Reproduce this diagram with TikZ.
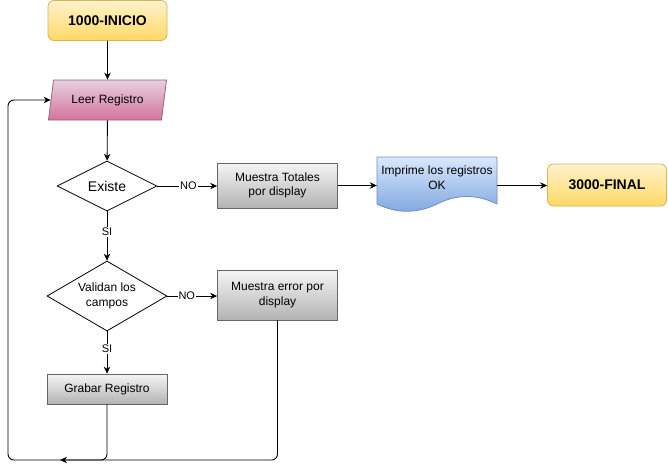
\documentclass[tikz,border=0pt]{standalone}
\usepackage{fontspec}
\setmainfont{Liberation Sans}
\usetikzlibrary{shapes.geometric,arrows.meta}
\definecolor{yelT}{HTML}{FFF2CC}
\definecolor{yelB}{HTML}{FFD966}
\definecolor{yelD}{HTML}{D6B656}
\definecolor{pinkT}{HTML}{E6D0DE}
\definecolor{pinkB}{HTML}{D5739D}
\definecolor{pinkD}{HTML}{996185}
\definecolor{grayT}{HTML}{F5F5F5}
\definecolor{grayB}{HTML}{B3B3B3}
\definecolor{grayD}{HTML}{666666}
\definecolor{blueT}{HTML}{DAE8FC}
\definecolor{blueB}{HTML}{7EA6E0}
\definecolor{blueD}{HTML}{6C8EBF}
\begin{document}
\begin{tikzpicture}[x=1pt,y=-1pt,
  txt/.style={font=\fontsize{12}{14.5}\selectfont, align=center},
  term/.style={rounded corners=6pt, draw=yelD, top color=yelT, bottom color=yelB,
    minimum width=119pt, minimum height=40pt, inner sep=0pt,
    font=\fontsize{14}{17}\selectfont\bfseries, line width=0.8pt},
  procbox/.style={txt, draw=grayD, top color=grayT, bottom color=grayB,
    minimum width=120pt, inner sep=0pt, line width=0.8pt},
  decision/.style={diamond, draw=black, fill=white, inner sep=0pt, line width=0.8pt},
  arr/.style={draw=black, line width=0.9pt, -{Stealth[length=7pt,width=6.5pt]}},
  lbl/.style={fill=white, inner sep=1pt, font=\fontsize{11}{13}\selectfont}
]
\useasboundingbox (0,0) rectangle (668,469);

\node[term] (ini) at (107.5,20.5) {1000-INICIO};
\node[trapezium, trapezium left angle=73.3, trapezium right angle=106.7,
  trapezium stretches=true, minimum width=119pt, minimum height=40pt, inner sep=0pt,
  draw=pinkD, top color=pinkT, bottom color=pinkB, line width=0.8pt, txt]
  (leer) at (107.5,100) {Leer Registro};
\node[decision, minimum width=100pt, minimum height=50pt,
  label={[font=\fontsize{14}{17}\selectfont]center:Existe}] (exi) at (107,186) {};
\node[procbox, minimum height=45pt] (mt) at (277.5,185.5) {Muestra Totales\\por display};

\shade[top color=blueT, bottom color=blueB] (377,157) -- (497,157) -- (497,204)
  .. controls (477,194) and (457,194) .. (437,204)
  .. controls (417,213.7) and (397,213.7) .. (377,204) -- cycle;
\draw[blueD, line width=0.8pt] (377,157) -- (497,157) -- (497,204)
  .. controls (477,194) and (457,194) .. (437,204)
  .. controls (417,213.7) and (397,213.7) .. (377,204) -- cycle;
\node[txt, minimum width=120pt, inner sep=0pt] (doc) at (437,177.5) {Imprime los registros\\OK};

\node[term, minimum height=42pt] (fin) at (607,185) {3000-FINAL};

\node[decision, minimum width=120pt, minimum height=70pt,
  label={[txt]center:Validan los\\campos}] (val) at (107,296) {};
\node[procbox, minimum height=50pt] (err) at (277.5,295) {Muestra error por\\display};
\node[procbox, minimum height=30pt] (grab) at (107,389) {Grabar Registro};

\coordinate (merge) at (60,460);

\draw[arr] (ini) -- (leer);
\draw[arr] (leer) -- (exi);
\draw[arr] (exi.east) -- node[lbl, pos=0.52] {NO} (mt.west |- exi.east);
\draw[arr] (exi.south) -- node[lbl, pos=0.42] {SI} (val.north);
\draw[arr] (mt.east) -- (mt.east -| doc.west);
\draw[arr] (mt.east -| doc.east) -- (mt.east -| fin.west);
\draw[arr] (val.east) -- node[lbl, pos=0.39] {NO} (err.west |- val.east);
\draw[arr] (val.south) -- node[lbl, pos=0.41] {SI} (grab.north);
\draw[arr, rounded corners=6pt] (grab.south) -- (107,460) -- (8,460) -- (8,100) -- (leer.west);
\draw[arr, rounded corners=6pt] (err.south) -- (err.south |- merge) -- (merge);
\end{tikzpicture}
\end{document}
